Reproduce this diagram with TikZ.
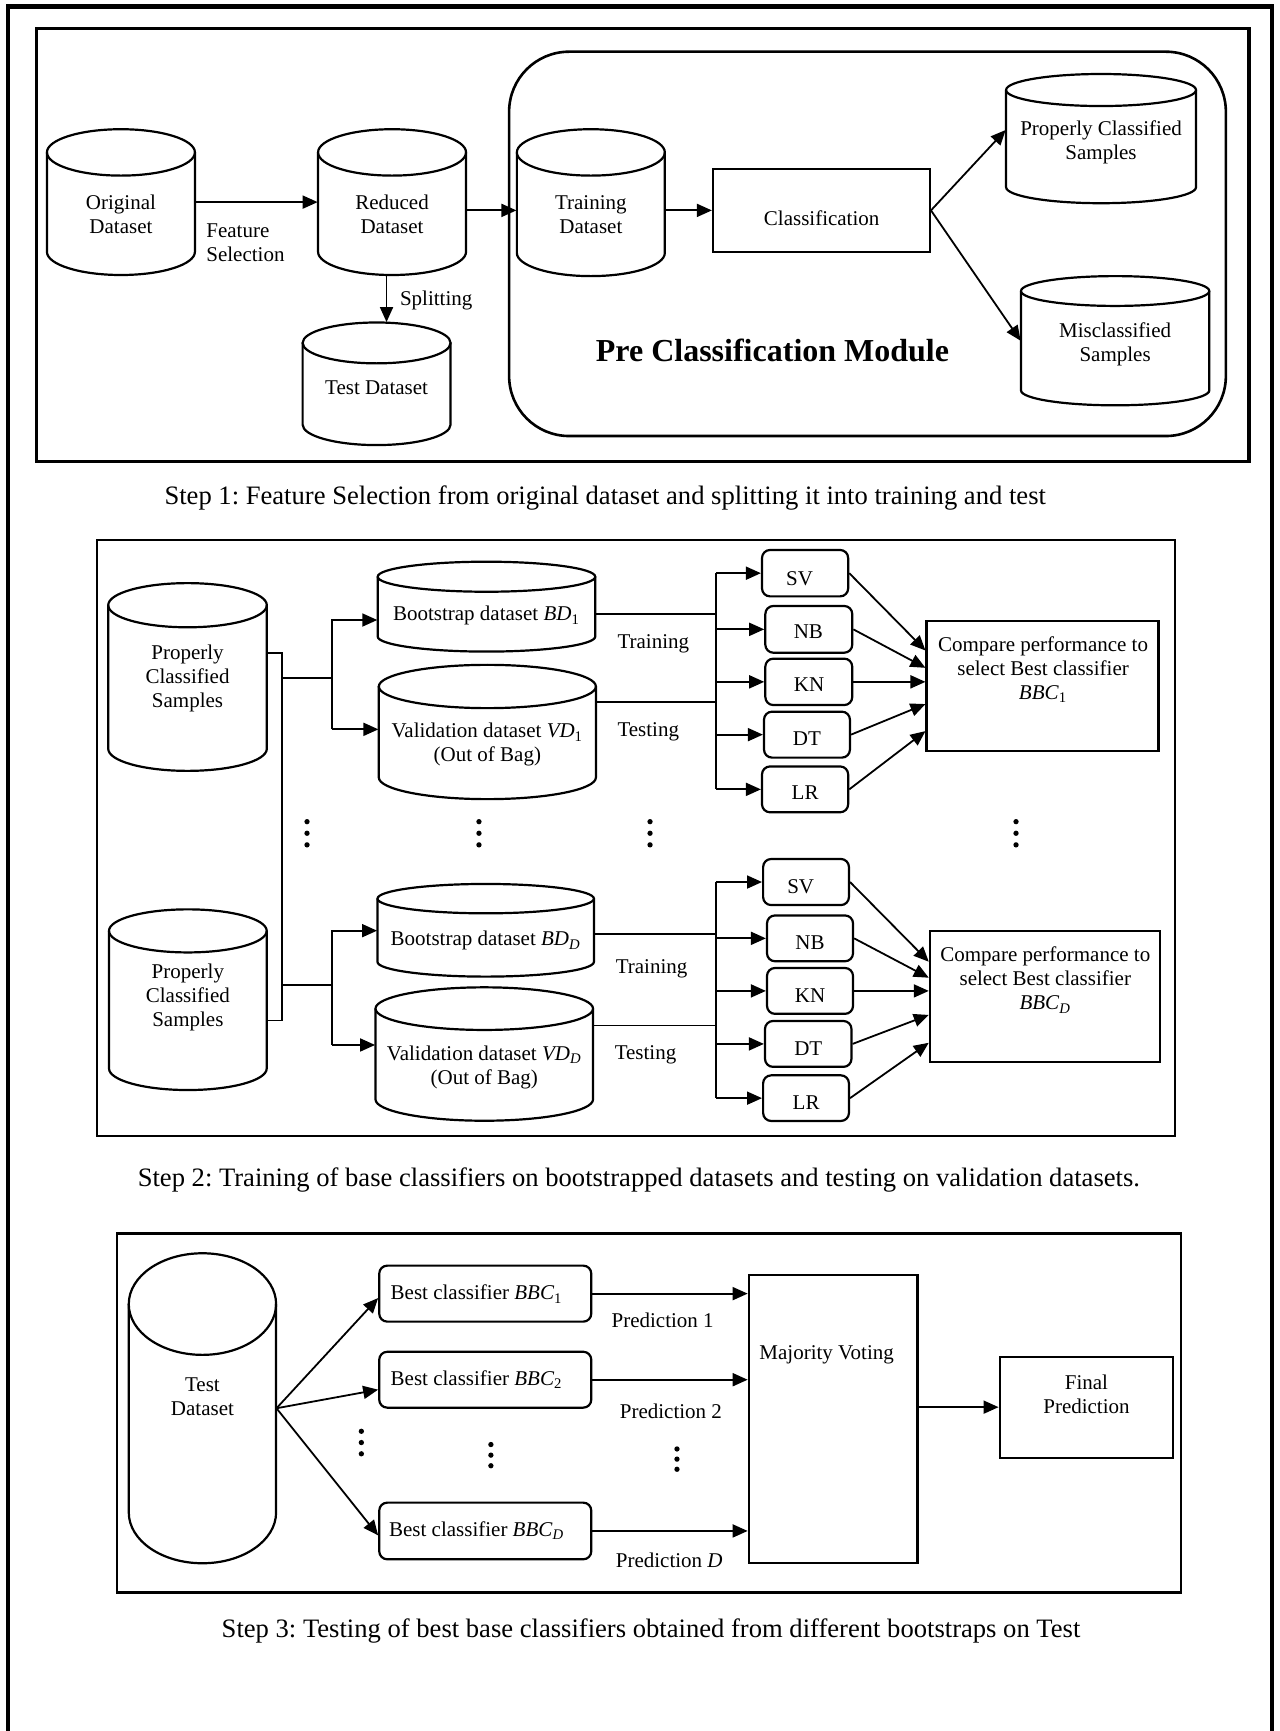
\documentclass[tikz,border=0pt]{standalone}
\usepackage{fontspec}
\setmainfont{Liberation Serif}
\usetikzlibrary{arrows.meta,fit,calc}
\frenchspacing
\newcommand{\dtext}{\fontsize{10.5}{12}\selectfont}
\newcommand{\ctext}{\fontsize{13.3}{16}\selectfont}
\newcommand{\btext}{\fontsize{16}{19}\selectfont\bfseries}
\newcommand{\mvar}[2]{\textit{#1}\textsubscript{#2}}
% cylinder: name, x1, y1, x2, y2, ry, text y, text
\newcommand{\dbcyl}[8]{%
  \draw[shp] ({(#2+#4)/2},{-(#3+#6)}) ellipse [x radius={(#4-#2)/2}, y radius={#6}];
  \draw[shp] (#2,{-(#3+#6)}) -- (#2,{-(#5-#6)}) arc [start angle=180, end angle=360, x radius={(#4-#2)/2}, y radius={#6}] -- (#4,{-(#3+#6)});
  \node[fit={(#2,-#3) (#4,-#5)}, inner sep=0pt] (#1) {};
  \node[txt, align=center] (#1-t) at ({(#2+#4)/2},-#7) {#8};
}
% box: name, style, x1, y1, x2, y2, text x, text y, text
\newcommand{\tbox}[9]{%
  \node[#2, fit={(#3,-#4) (#5,-#6)}] (#1) {};
  \node[txt, align=center] (#1-t) at (#7,-#8) {#9};
}
\begin{document}
\begin{tikzpicture}[x=0.5522pt,y=0.5522pt,
  shp/.style={line width=1.1pt},
  ln/.style={line width=0.9pt},
  arr/.style={ln, -{Triangle[length=7.5pt,width=6.5pt]}},
  rbox/.style={draw, line width=1.1pt, inner sep=0pt},
  rrbox/.style={rbox, rounded corners=4pt},
  txt/.style={font=\dtext, inner sep=0pt},
  captxt/.style={font=\ctext, inner sep=0pt},
  framebox/.style={draw, inner sep=0pt}]
\useasboundingbox (0,0) rectangle (1159,-1567.4);

% outer frame
\draw[line width=2.2pt] (7,-1580) -- (7,-6) -- (1152,-6) -- (1152,-1580);

% ================= Step 1 =================
\node[framebox, line width=1.6pt, fit={(33,-26) (1131,-418)}] (box1) {};
\node[framebox, line width=1.3pt, rounded corners=30pt, fit={(461,-46.8) (1110,-394.8)}] (mod) {};
\node[font=\btext, inner sep=0pt] (modt) at (699.5,-317) {Pre Classification Module};

\dbcyl{orig}{42.5}{117}{176.5}{249}{21}{194.5}{Original\\Dataset}
\dbcyl{red}{288}{117}{422}{249}{21}{194.5}{Reduced\\Dataset}
\dbcyl{tst}{274}{292}{408}{403}{18.5}{350.7}{Test Dataset}
\dbcyl{trn}{468}{117}{602}{250}{21}{194.5}{Training\\Dataset}
\dbcyl{pcs}{911}{67}{1083}{184}{14.5}{129}{Properly Classified\\Samples}
\dbcyl{mis}{924.5}{250}{1095}{367}{13.5}{312}{Misclassified\\Samples}
\tbox{cls}{rbox}{645.6}{153}{842}{228}{744}{198}{Classification}

\node[txt, align=left, anchor=west] (fs) at (186.5,-219.5) {Feature\\Selection};
\node[txt] (spl) at (395,-272) {Splitting};

\draw[arr] (orig.east) -- (orig.east -| red.west);
\draw[arr] (red.east |- cls.west) -- (trn.west |- cls.west);
\draw[arr] (trn.east |- cls.west) -- (cls.west);
\draw[arr] (cls.east) -- ($(pcs.west)+(0,7.8)$);
\draw[arr] (cls.east) -- (mis.west);
\path ($(red.south)+(-5,0)$) coordinate (sp);
\draw[arr] (sp) -- (sp |- tst.north);

\node[captxt] (cap1) at (548,-451) {Step 1: Feature Selection from original dataset and splitting it into training and test};

% ================= Step 2 =================
\node[framebox, line width=1.1pt, fit={(88,-489) (1064,-1028.5)}] (box2) {};

\dbcyl{pcsa}{98}{528}{241.6}{698}{20}{614.5}{Properly\\Classified\\Samples}
\dbcyl{pcsb}{98.7}{823.4}{241.5}{987}{19.5}{903}{Properly\\Classified\\Samples}
\dbcyl{bda}{342}{508.6}{539}{590}{13.6}{557.7}{Bootstrap dataset \mvar{BD}{1}}
\dbcyl{vda}{343}{602}{539.6}{723.6}{19.6}{674.5}{Validation dataset \mvar{VD}{1}\\(Out of Bag)}
\dbcyl{bdb}{341.8}{800.4}{537.8}{884.3}{13.3}{852}{Bootstrap dataset \mvar{BD}{\textit{D}}}
\dbcyl{vdb}{340}{894}{537}{1014.8}{19.3}{966.6}{Validation dataset \mvar{VD}{\textit{D}}\\(Out of Bag)}

\tbox{sva}{rrbox}{690}{498}{768}{540}{724}{523.7}{SV}
\tbox{nba}{rrbox}{693}{548.7}{771.7}{591}{732}{572}{NB}
\tbox{kna}{rrbox}{693}{596.4}{771.7}{638.4}{732.6}{620.2}{KN}
\tbox{dta}{rrbox}{691.8}{644.4}{769.6}{686}{730.7}{668.5}{DT}
\tbox{lra}{rrbox}{690}{694}{768}{735.5}{729}{717.4}{LR}
\tbox{cmpa}{rbox}{839}{562}{1049}{680}{944.5}{606}{Compare performance to\\select Best classifier\\\mvar{BBC}{1}}

\tbox{svb}{rrbox}{691}{777.8}{768.7}{819.5}{725}{802.7}{SV}
\tbox{nbb}{rrbox}{694.5}{828.9}{772.4}{870.4}{733.5}{853.7}{NB}
\tbox{knb}{rrbox}{694.5}{876.5}{772.4}{918}{733.5}{901.3}{KN}
\tbox{dtb}{rrbox}{692.7}{924.5}{771}{966}{731.9}{949.3}{DT}
\tbox{lrb}{rrbox}{691}{973.7}{768.7}{1015}{729.9}{998.4}{LR}
\tbox{cmpb}{rbox}{842}{843}{1050.5}{961.6}{946.5}{887.5}{Compare performance to\\select Best classifier\\\mvar{BBC}{\textit{D}}}

\node[txt] (tra) at (591.6,-583) {Training};
\node[txt] (tea) at (587,-662.5) {Testing};
\node[txt] (trb) at (590,-876.8) {Training};
\node[txt] (teb) at (584.5,-955.3) {Testing};

% left trunk
\coordinate (ja) at (255,-591);
\coordinate (jb) at (255,-924);
\draw[ln] (pcsa.east |- ja) -- (ja) -- (jb) -- (pcsb.east |- jb);
\coordinate (ka) at (255,-614);
\coordinate (fa) at (300.5,-614);
\coordinate (fa1) at (300.5,-561.4);
\coordinate (fa2) at (300.5,-660.4);
\draw[ln] (ka) -- (fa);
\draw[arr] (fa2) -- (fa1) -- (fa1 -| bda.west);
\draw[arr] (fa2) -- (fa2 -| vda.west);
\coordinate (kb) at (255,-891.9);
\coordinate (fb) at (300.6,-891.9);
\coordinate (fb1) at (300.6,-842.7);
\coordinate (fb2) at (300.6,-946.2);
\draw[ln] (kb) -- (fb);
\draw[arr] (fb2) -- (fb1) -- (fb1 -| bdb.west);
\draw[arr] (fb2) -- (fb2 -| vdb.west);

% middle trunks
\coordinate (ta) at (648.3,-600);
\coordinate (tb) at (648,-900);
\draw[ln] (bda.east |- 0,-556) -- (ta |- 0,-556);
\draw[ln] (vda.east |- 0,-635.6) -- (ta |- 0,-635.6);
\draw[ln] (ta |- sva.west) -- (ta |- lra.west);
\foreach \n in {sva,nba,kna,dta,lra} \draw[arr] (ta |- \n.west) -- (\n.west);
\draw[ln] (bdb.east |- 0,-846) -- (tb |- 0,-846);
\draw[ln] (vdb.east |- 0,-928.6) -- (tb |- 0,-928.6);
\draw[ln] (tb |- svb.west) -- (tb |- lrb.west);
\foreach \n in {svb,nbb,knb,dtb,lrb} \draw[arr] (tb |- \n.west) -- (\n.west);

% to compare boxes
\draw[arr] (sva.east) -- ($(cmpa.west)+(0,32)$);
\draw[arr] (nba.east) -- ($(cmpa.west)+(0,16.3)$);
\draw[arr] (kna.east) -- (kna.east -| cmpa.west);
\draw[arr] (dta.east) -- ($(cmpa.west)+(0,-16.5)$);
\draw[arr] (lra.east) -- ($(cmpa.west)+(0,-41)$);
\draw[arr] (svb.east) -- ($(cmpb.west)+(0,31.5)$);
\draw[arr] (nbb.east) -- ($(cmpb.west)+(0,17)$);
\draw[arr] (knb.east) -- (knb.east -| cmpb.west);
\draw[arr] (dtb.east) -- ($(cmpb.west)+(0,-16.7)$);
\draw[arr] (lrb.east) -- ($(cmpb.west)+(0,-41.9)$);

% dots
\foreach \x in {278,433.7,588.6,920}
  \fill (\x,-744) circle (2.4) (\x,-754.5) circle (2.4) (\x,-765) circle (2.4);

\node[captxt] (cap2) at (578.5,-1068.5) {Step 2: Training of base classifiers on bootstrapped datasets and testing on validation datasets.};

% ================= Step 3 =================
\node[framebox, line width=1.2pt, fit={(105.8,-1117) (1069.4,-1442)}] (box3) {};

\dbcyl{tds}{116.6}{1134.8}{250}{1415.5}{46}{1264.6}{Test\\Dataset}
\tbox{bbca}{rrbox}{343.4}{1146}{535.4}{1196.7}{431.6}{1171.7}{Best classifier \mvar{BBC}{1}}
\tbox{bbcb}{rrbox}{343.4}{1224}{535.4}{1274.6}{431.6}{1249.5}{Best classifier \mvar{BBC}{2}}
\tbox{bbcd}{rrbox}{343.4}{1360.6}{535.4}{1411.9}{431.6}{1386}{Best classifier \mvar{BBC}{\textit{D}}}
\tbox{maj}{rbox}{678}{1154.5}{830.8}{1415.5}{748.5}{1226.9}{Majority Voting}
\tbox{fin}{rbox}{905.2}{1228.4}{1062}{1319.9}{983.8}{1262.4}{Final\\Prediction}

\draw[arr] (tds.east) -- ($(bbca.west)+(0,-4)$);
\draw[arr] (tds.east) -- ($(bbcb.west)+(0,-9)$);
\draw[arr] (tds.east) -- ($(bbcd.west)+(0,-4)$);
\draw[arr] (bbca.east) -- (bbca.east -| maj.west);
\draw[arr] (bbcb.east) -- (bbcb.east -| maj.west);
\draw[arr] (bbcd.east) -- (bbcd.east -| maj.west);
\draw[arr] (fin.west -| maj.east) -- (fin.west);

\node[txt] (pr1) at (600,-1195.2) {Prediction 1};
\node[txt] (pr2) at (607.5,-1278.2) {Prediction 2};
\node[txt] (prd) at (606,-1412.5) {Prediction \textit{D}};

\fill (327.2,-1296) circle (2.4) (327.2,-1306.2) circle (2.4) (327.2,-1316.4) circle (2.4);
\fill (444.5,-1308) circle (2.4) (444.5,-1317.6) circle (2.4) (444.5,-1327.2) circle (2.4);
\fill (613,-1312) circle (2.4) (613,-1321.2) circle (2.4) (613,-1330.4) circle (2.4);

\node[captxt] (cap3) at (589.5,-1476.5) {Step 3: Testing of best base classifiers obtained from different bootstraps on Test};
\end{tikzpicture}
\end{document}
